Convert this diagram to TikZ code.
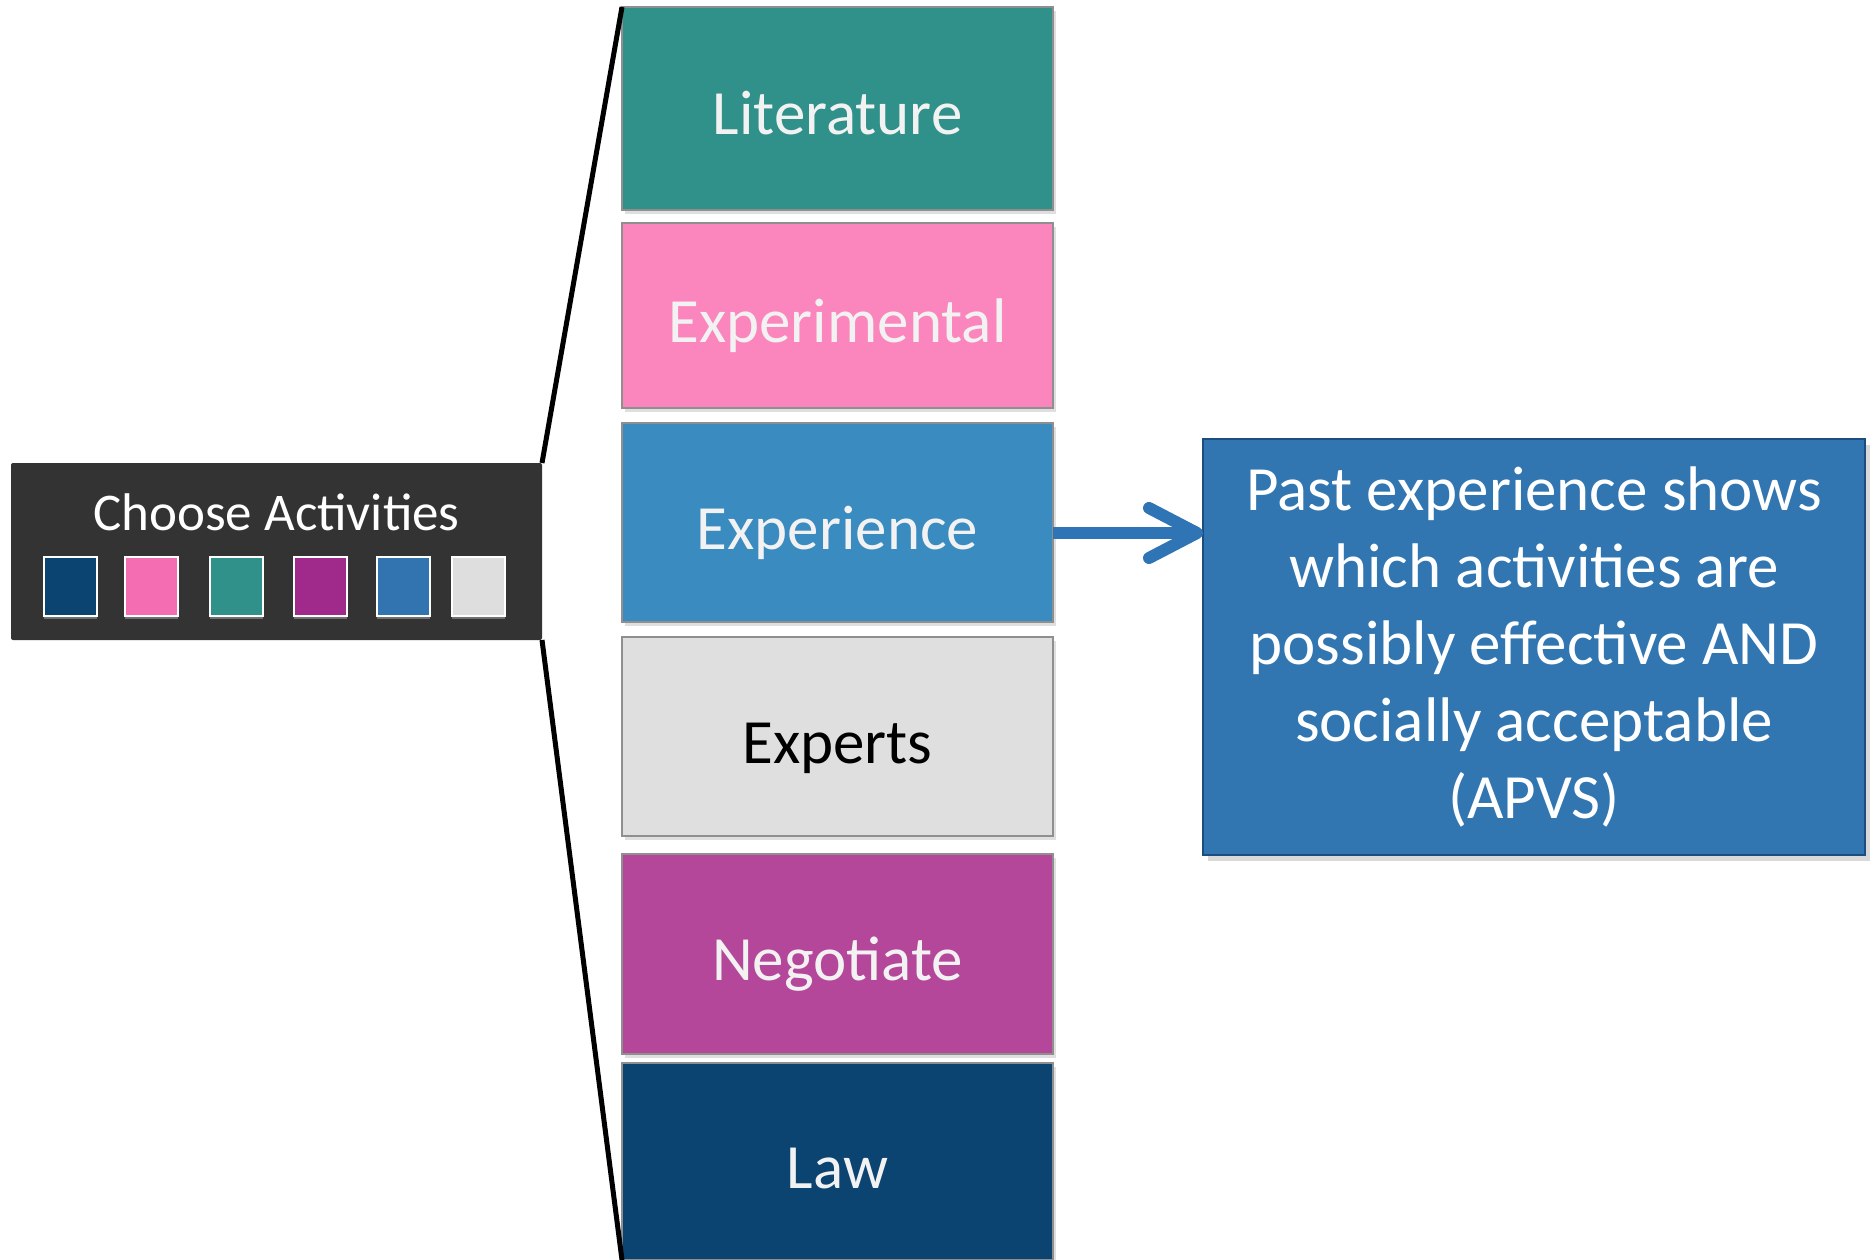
\documentclass[tikz,border=0pt]{standalone}
\usepackage{fontspec}
\setmainfont{Carlito}
\usepackage{tikz}
\usetikzlibrary{positioning}
\usetikzlibrary{arrows.meta}
\usetikzlibrary{shadows}
\definecolor{litteal}{HTML}{30918A}
\definecolor{exppink}{HTML}{FB86BE}
\definecolor{expblue}{HTML}{3A8BBF}
\definecolor{expgray}{HTML}{DFDFDF}
\definecolor{negpurple}{HTML}{B5479B}
\definecolor{lawnavy}{HTML}{0B4471}
\definecolor{swpink}{HTML}{F46DB3}
\definecolor{swpurple}{HTML}{A02A8C}
\definecolor{swblue}{HTML}{3274B0}
\definecolor{swgray}{HTML}{DEDEDE}
\definecolor{apvsblue}{HTML}{3276B1}
\definecolor{apvsedge}{HTML}{1B4E7E}
\definecolor{arrowblue}{HTML}{2F75B5}
\definecolor{boxgray}{HTML}{8F8F8F}
\definecolor{darkbox}{HTML}{333333}
\definecolor{offwhite}{HTML}{F2F2F2}

\begin{document}
\begin{tikzpicture}[
    x=1pt, y=-1pt,
    block/.style={
      minimum width=431pt,
      align=center,
      draw=boxgray,
      line width=2pt,
      outer sep=0pt,
      text=offwhite,
      text height=63pt,
      text depth=10pt,
      font=\fontsize{63}{77}\selectfont,
      drop shadow={opacity=0.25, shadow xshift=3pt, shadow yshift=-4pt},
    },
    swatch/.style={
      minimum width=53pt,
      minimum height=59pt,
      draw=white,
      line width=2pt,
      drop shadow={fill=white, opacity=0.3, shadow xshift=0pt, shadow yshift=-3pt},
    },
    link/.style={
      line width=5pt,
    },
    flow/.style={
      draw=arrowblue,
      line width=12pt,
      -{Straight Barb[length=48pt, width=50pt, round]},
    },
    ]
    \useasboundingbox (0,0) rectangle (1875,1260);

    % activity stack
    \node[block, fill=litteal, minimum height=203pt, anchor=north west] (lit) at (622,7) {Literature};
    \node[block, fill=exppink, minimum height=185pt, below=13pt of lit] (expm) {Experimental};
    \node[block, fill=expblue, minimum height=199pt, below=15pt of expm] (expc) {Experience};
    \node[block, fill=expgray, text=black, minimum height=199pt, below=15pt of expc] (expt) {Experts};
    \node[block, fill=negpurple, minimum height=200pt, below=18pt of expt] (neg) {Negotiate};
    \node[block, fill=lawnavy, minimum height=197pt, below=9pt of neg] (law) {Law};

    % legend box
    \node[fill=darkbox, rounded corners=2pt, minimum width=531pt, minimum height=177pt,
      outer sep=0pt, anchor=north west] (choose) at (11,463) {};
    \node[text=white, font=\fontsize{53}{64}\selectfont, anchor=base] (title) at (276.5,530) {Choose Activities};
    \node[swatch, fill=lawnavy] (sw1) at (70.5,586.5) {};
    \node[swatch, fill=swpink] (sw2) at (151,586.5) {};
    \node[swatch, fill=litteal] (sw3) at (236,586.5) {};
    \node[swatch, fill=swpurple] (sw4) at (320,586.5) {};
    \node[swatch, fill=swblue] (sw5) at (403.5,586.5) {};
    \node[swatch, fill=swgray] (sw6) at (478.5,586.5) {};

    % result
    \node[fill=apvsblue, draw=apvsedge, line width=2pt, minimum width=662pt, minimum height=416pt,
      align=center, text=white, font=\fontsize{63}{77}\selectfont, outer sep=0pt,
      drop shadow={opacity=0.3, shadow xshift=5pt, shadow yshift=-6pt},
      anchor=north west] (apvs) at (1203,439) {
      Past experience shows \\
      which activities are \\
      possibly effective AND \\
      socially acceptable \\
      (APVS)
    };

    \draw[link] (choose.north east) -- (lit.north west);
    \draw[link] (choose.south east) -- (law.south west);
    \coordinate (start) at ([yshift=-10.5pt]expc.east);
    \draw[flow] (start) -- (start -| apvs.west);
  \end{tikzpicture}
\end{document}
